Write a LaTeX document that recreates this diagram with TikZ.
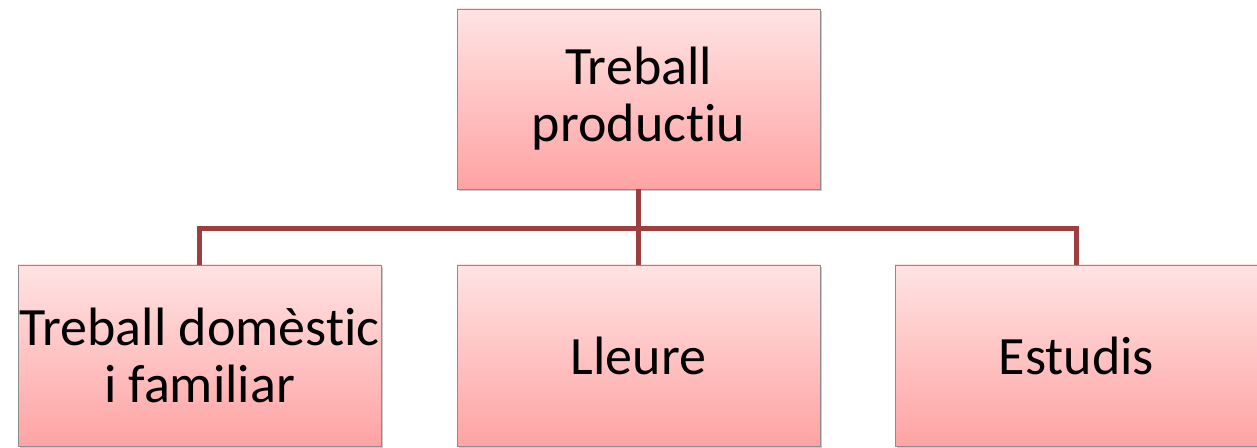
\documentclass[tikz,border=0pt]{standalone}
\usepackage{fontspec}
\setmainfont[RawFeature={-liga;-clig;-calt;-dlig}]{Carlito}
\usetikzlibrary{shadows}
\definecolor{boxtop}{HTML}{FFE3E3}
\definecolor{boxbot}{HTML}{FFA3A3}
\definecolor{boxline}{HTML}{8C8C8C}
\definecolor{conn}{HTML}{9E3F3F}
\begin{document}
\begin{tikzpicture}[x=1pt,y=1pt,
  pbox/.style={draw=boxline, line width=0.8pt, top color=boxtop, bottom color=boxbot,
    minimum width=363pt, inner sep=0pt, align=center,
    font=\fontsize{54}{57}\selectfont,
    drop shadow={shadow xshift=2pt, shadow yshift=-2pt, opacity=0.35, fill=black!60}},
  conline/.style={draw=conn, line width=5pt}]
\useasboundingbox (0,0) rectangle (1257,447);
\begin{scope}
\clip (0,0) rectangle (1257,447);
\node[pbox, minimum height=180pt] (top) at (638.5,348) {Treball\\productiu};
\node[pbox, minimum height=181pt] (left) at (199.5,91.5) {Treball domèstic\\i familiar};
\node[pbox, minimum height=181pt] (mid) at (638.5,91.5) {Lleure};
\node[pbox, minimum height=181pt] (right) at (1076.5,91.5) {Estudis};
\coordinate (j) at (638.5,218);
\draw[conline] (top.south) -- (j);
\draw[conline] (left.north) |- (j) -| (right.north);
\draw[conline] (j) -- (mid.north);
\end{scope}
\end{tikzpicture}
\end{document}
